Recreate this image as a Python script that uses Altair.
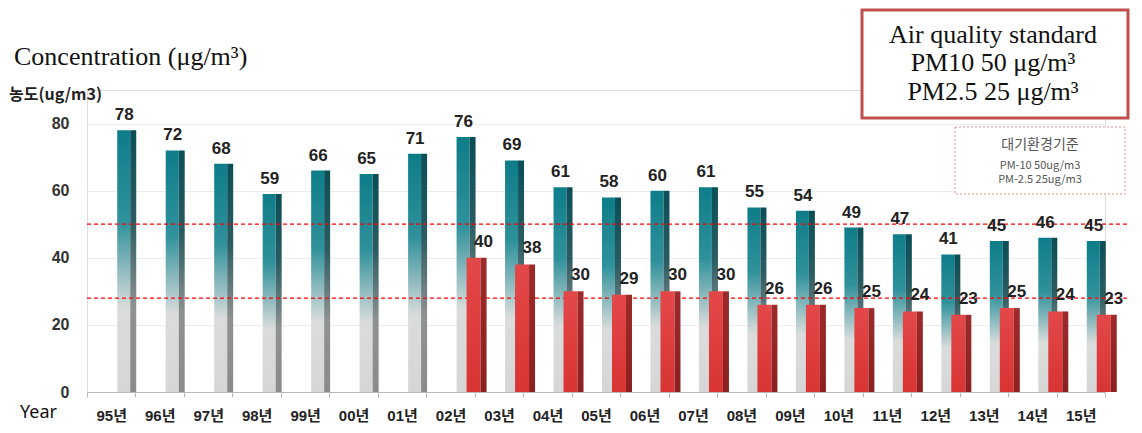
import altair as alt
import pandas as pd

years = ["95년", "96년", "97년", "98년", "99년", "00년", "01년", "02년", "03년", "04년", "05년",
         "06년", "07년", "08년", "09년", "10년", "11년", "12년", "13년", "14년", "15년"]
pm10 = [78, 72, 68, 59, 66, 65, 71, 76, 69, 61, 58, 60, 61, 55, 54, 49, 47, 41, 45, 46, 45]
pm25 = [None] * 7 + [40, 38, 30, 29, 30, 30, 26, 26, 25, 24, 23, 25, 24, 23]
ref_lines = [50, 28]

df = pd.DataFrame({"year": years, "pm10": pm10, "pm25": pm25})
df25 = df.dropna(subset=["pm25"])
df_ref = pd.DataFrame({"v": ref_lines})
one = pd.DataFrame({"k": [0]})

W, H = 1018, 302
SANS = "Liberation Sans, Noto Sans CJK KR"

x = alt.X("year:N", sort=years, scale=alt.Scale(paddingInner=0, paddingOuter=0),
          axis=alt.Axis(title=None, labelAngle=0, labelFont=SANS, labelFontSize=15,
                        labelFontWeight="bold", labelColor="#222", labelPadding=11,
                        tickBand="extent", tickSize=5, tickColor="#bbb",
                        domainColor="#bbb", grid=False))
yscale = alt.Scale(domain=[0, 90])

def grad(stops):
    return {"gradient": "linear", "x1": 0, "y1": 0, "x2": 0, "y2": 1,
            "stops": [{"offset": o, "color": c} for o, c in stops]}

teal_front = grad([(0, "#0d7d89"), (0.35, "#2f919b"), (0.68, "#dadcdc"), (1, "#d6d6d6")])
teal_side = grad([(0, "#0a4e56"), (0.35, "#2a5c62"), (0.68, "#8f9292"), (1, "#8a8a8a")])
red_front = grad([(0, "#e34848"), (1, "#d83434")])
red_side = grad([(0, "#9e2a2a"), (1, "#8c2020")])

base = alt.Chart(df).encode(x=x)
yq = alt.Y("pm10:Q", scale=yscale,
           axis=alt.Axis(title=None, values=[0, 20, 40, 60, 80], labelFont=SANS,
                         labelFontSize=16, labelFontWeight="bold", labelColor="#333",
                         tickSize=0, labelPadding=18, domain=False,
                         gridColor="#ececec", gridWidth=1))

ref_layer = alt.Chart(df_ref).mark_rule(color="#ff0000", strokeDash=[4, 3], strokeWidth=1.3).encode(
    y=alt.Y("v:Q", scale=yscale), x=alt.value(0), x2=alt.value(1043))

t_front = base.mark_bar(width=13, xOffset=12.5, color=teal_front).encode(y=yq)
t_side = base.mark_bar(width=6, xOffset=22, color=teal_side).encode(y=alt.Y("pm10:Q", scale=yscale))
t_text = base.mark_text(xOffset=13, dy=-6, baseline="bottom", font=SANS, fontSize=17,
                        fontWeight="bold", color="#222").encode(
    y=alt.Y("pm10:Q", scale=yscale), text="pm10:Q")

base25 = alt.Chart(df25).encode(x=x)
r_front = base25.mark_bar(width=14, xOffset=23, color=red_front).encode(y=alt.Y("pm25:Q", scale=yscale))
r_side = base25.mark_bar(width=6, xOffset=33, color=red_side).encode(y=alt.Y("pm25:Q", scale=yscale))
r_text = base25.mark_text(xOffset=33, dy=-7, baseline="bottom", font=SANS, fontSize=17,
                          fontWeight="bold", color="#222").encode(
    y=alt.Y("pm25:Q", scale=yscale), text="pm25:Q")

# titles and annotations (pixel positions relative to plot origin)
title_en = alt.Chart(one).mark_text(text="Concentration (μg/m³)", font="Liberation Serif",
                                    fontSize=26, align="left", baseline="middle", color="#111").encode(
    x=alt.value(-73), y=alt.value(-33))
title_ko = alt.Chart(one).mark_text(text="농도(ug/m3)", font="Noto Sans CJK KR", fontWeight="bold",
                                    fontSize=16, align="left", baseline="middle", color="#222").encode(
    x=alt.value(-78), y=alt.value(5))
year_lbl = alt.Chart(one).mark_text(text="Year", font="Noto Sans", fontSize=18, align="left",
                                    baseline="middle", color="#111").encode(
    x=alt.value(-67), y=alt.value(323))

box = alt.Chart(one).mark_rect(fill="white", stroke="#c0504d", strokeWidth=3).encode(
    x=alt.value(775), x2=alt.value(1041), y=alt.value(-80), y2=alt.value(28))
box_lines = pd.DataFrame({"t": ["Air quality standard", "PM10 50 μg/m³", "PM2.5 25 μg/m³"],
                          "yy": [-55, -27, 2]})
box_text = alt.Chart(box_lines).mark_text(font="Liberation Serif", fontSize=26, align="center",
                                          baseline="middle", color="#111").encode(
    x=alt.value(906), y=alt.Y("yy:Q", scale=None), text="t:N")

box2 = alt.Chart(one).mark_rect(fill="white", stroke="#f08a8a", strokeWidth=1,
                                strokeDash=[2, 2]).encode(
    x=alt.value(868), x2=alt.value(1038), y=alt.value(37), y2=alt.value(104))
box2_lines = pd.DataFrame({"t": ["대기환경기준", "PM-10 50ug/m3", "PM-2.5 25ug/m3"],
                           "yy": [55, 76, 90], "fs": [14, 11, 11]})
box2_text = alt.Chart(box2_lines).mark_text(font="Noto Sans CJK KR", align="center",
                                            baseline="middle", color="#555").encode(
    x=alt.value(953), y=alt.Y("yy:Q", scale=None), text="t:N",
    size=alt.Size("fs:Q", scale=None, legend=None))

chart = alt.layer(
    t_front, t_side, ref_layer, r_front, r_side, t_text, r_text,
    title_en, title_ko, year_lbl, box, box_text, box2, box2_text
).properties(
    width=W, height=H, autosize="none",
    padding={"left": 79, "top": 82, "right": 29, "bottom": 33}
).configure_view(stroke=None).configure(background="white")

chart.save("out.html", embed_options={"renderer": "svg", "actions": False})
